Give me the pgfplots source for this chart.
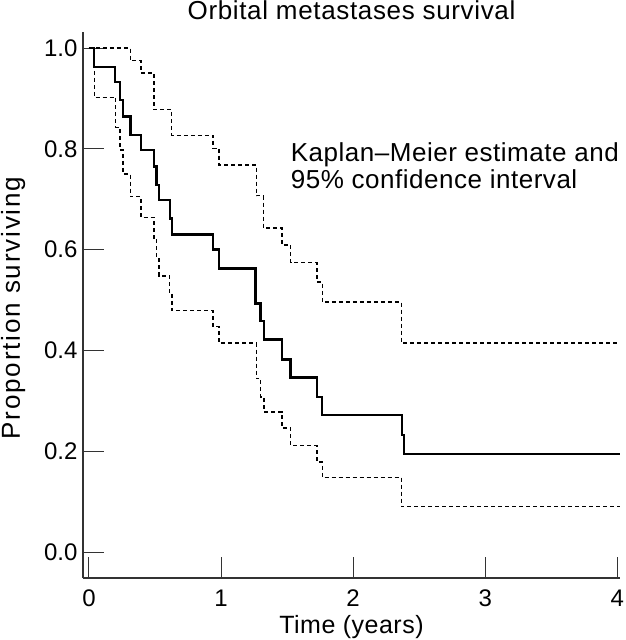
\documentclass[border=0pt]{standalone}
\usepackage{pgfplots}
\pgfplotsset{compat=1.18}
\usepackage{fontspec}
\setmainfont{Liberation Sans}
\begin{document}
\begin{tikzpicture}
\begin{axis}[
  scale only axis,
  width=537pt, height=546pt,
  xmin=-0.045, xmax=4.02,
  ymin=-0.0516, ymax=1.032,
  axis x line*=bottom, axis y line*=left,
  axis line style={-, line width=1.2pt, black!80},
  xtick={0,1,2,3,4},
  ytick={0,0.2,0.4,0.6,0.8,1.0},
  yticklabel style={/pgf/number format/fixed, /pgf/number format/fixed zerofill, /pgf/number format/precision=1, xshift=-2pt},
  /pgf/number format/assume math mode=true,
  tick align=inside,
  major tick length=21pt,
  tick style={line width=1pt, black!80},
  ticklabel style={font=\fontsize{24}{28}\selectfont},
  xticklabel style={yshift=-8pt},
  clip=false,
]
% Kaplan-Meier estimate
\addplot[const plot, line width=2.4pt, black] coordinates {
(0,1.0) (0.040,0.962) (0.197,0.933) (0.234,0.897) (0.259,0.864) (0.315,0.827)
(0.393,0.798) (0.491,0.765) (0.512,0.728) (0.529,0.698) (0.612,0.662) (0.627,0.630)
(0.94,0.600) (0.985,0.563) (1.262,0.493) (1.30,0.459) (1.325,0.422) (1.461,0.382)
(1.527,0.346) (1.728,0.308) (1.766,0.272) (2.368,0.232) (2.383,0.194) (4.02,0.194)
};
% upper 95% CI
\addplot[const plot, line width=1.4pt, black, dash pattern=on 4pt off 3pt] coordinates {
(0.0,1.0) (0.315,0.975) (0.393,0.951) (0.491,0.878) (0.627,0.827) (0.94,0.801)
(0.985,0.768) (1.268,0.707) (1.32,0.643) (1.461,0.609) (1.527,0.574) (1.726,0.536)
(1.766,0.496) (2.366,0.415) (4.02,0.415)
};
% lower 95% CI
\addplot[const plot, line width=1.4pt, black, dash pattern=on 4pt off 3pt] coordinates {
(0.0,1.0) (0.040,0.902) (0.202,0.843) (0.234,0.798) (0.259,0.750) (0.315,0.705)
(0.393,0.664) (0.491,0.622) (0.512,0.583) (0.529,0.548) (0.612,0.513) (0.63,0.479)
(0.94,0.447) (0.985,0.415) (1.268,0.344) (1.30,0.308) (1.325,0.278) (1.461,0.246)
(1.527,0.211) (1.726,0.179) (1.766,0.148) (2.366,0.090) (4.02,0.090)
};
\node[anchor=base, font=\fontsize{26}{30}\selectfont\addfontfeatures{LetterSpace=2.5}, inner sep=0pt] at ([yshift=12.5pt]rel axis cs:0.5,1) {Orbital metastases survival};
\node[anchor=base west, font=\fontsize{26}{30}\selectfont\addfontfeatures{LetterSpace=2}, inner sep=0pt] at (axis cs:1.527,0.774) {Kaplan--Meier estimate and};
\node[anchor=base west, font=\fontsize{26}{30}\selectfont\addfontfeatures{LetterSpace=2}, inner sep=0pt] at (axis cs:1.527,0.722) {95\% confidence interval};
\node[anchor=base, font=\fontsize{25}{30}\selectfont\addfontfeatures{LetterSpace=2}, inner sep=0pt] at ([yshift=-55pt]rel axis cs:0.5,0) {Time (years)};
\node[anchor=base, rotate=90, font=\fontsize{26}{30}\selectfont\addfontfeatures{LetterSpace=7}, inner sep=0pt] at ([xshift=-63pt, yshift=-3pt]rel axis cs:0,0.5) {Proportion surviving};
\coordinate (BL) at (rel axis cs:0,0);
\end{axis}
\pgfresetboundingbox
\path[use as bounding box] ([xshift=-83pt, yshift=-62pt]BL) rectangle ([xshift=542pt, yshift=578pt]BL);
\end{tikzpicture}
\end{document}
